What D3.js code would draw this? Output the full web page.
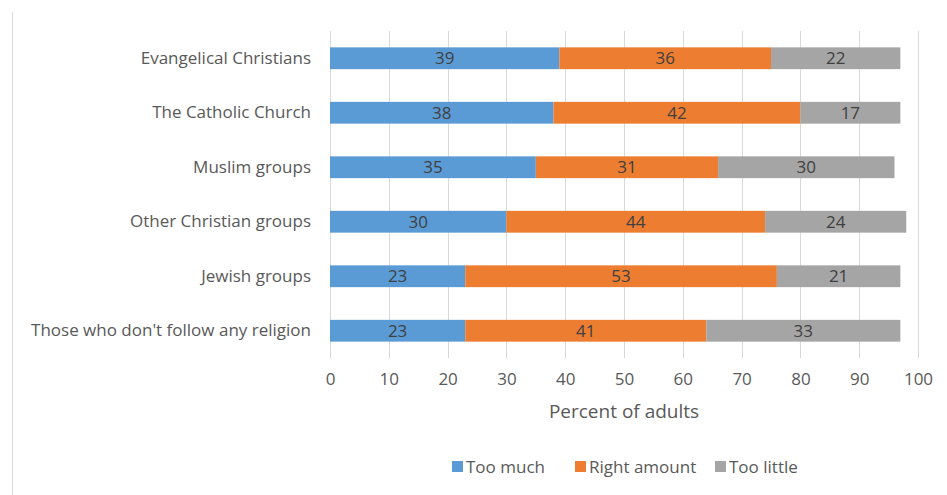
<!DOCTYPE html>
<html>
<head>
<meta charset="utf-8">
<script src="https://cdn.jsdelivr.net/npm/d3@7"></script>
<style>
  html, body { margin: 0; padding: 0; background: #fff; }
  svg { display: block; font-family: "Open Sans", "Noto Sans", sans-serif; }
</style>
</head>
<body>
<svg id="chart" width="947" height="495"></svg>
<script>
// Survey groups, top to bottom
const categories = [
  "Evangelical Christians",
  "The Catholic Church",
  "Muslim groups",
  "Other Christian groups",
  "Jewish groups",
  "Those who don't follow any religion"
];
const seriesNames = ["Too much", "Right amount", "Too little"];
const tooMuch     = [39, 38, 35, 30, 23, 23];
const rightAmount = [36, 42, 31, 44, 53, 41];
const tooLittle   = [22, 17, 30, 24, 21, 33];
const xTicks = [0, 10, 20, 30, 40, 50, 60, 70, 80, 90, 100];
const colors = ["#5B9BD5", "#ED7D31", "#A5A5A5"];

const rows = categories.map((c, i) => ({
  category: c,
  "Too much": tooMuch[i],
  "Right amount": rightAmount[i],
  "Too little": tooLittle[i]
}));

const svg = d3.select("#chart");
const margin = { left: 330, right: 29, top: 31, bottom: 137 };
const W = 947, H = 495;
const x = d3.scaleLinear().domain([0, 100]).range([margin.left, W - margin.right]);
const y = d3.scaleBand().domain(categories).range([margin.top, H - margin.bottom]).paddingInner(0.6).paddingOuter(0.3);

// Outer chart frame line on the left
svg.append("line")
  .attr("x1", 12.5).attr("x2", 12.5).attr("y1", 12).attr("y2", H)
  .attr("stroke", "#d9d9d9");

// Vertical gridlines
svg.append("g").selectAll("line").data(xTicks).join("line")
  .attr("x1", d => Math.round(x(d)) + 0.5).attr("x2", d => Math.round(x(d)) + 0.5)
  .attr("y1", margin.top).attr("y2", H - margin.bottom)
  .attr("stroke", "#d9d9d9").attr("stroke-width", 1);

// Stacked bars
const stack = d3.stack().keys(seriesNames)(rows);
const layers = svg.append("g").selectAll("g").data(stack).join("g")
  .attr("fill", (d, i) => colors[i]);
layers.selectAll("rect").data(d => d).join("rect")
  .attr("x", d => x(d[0]))
  .attr("y", d => y(d.data.category))
  .attr("width", d => x(d[1]) - x(d[0]))
  .attr("height", y.bandwidth());

// Value labels centred in each segment
layers.selectAll("text").data(d => d.map(s => ({ s, v: s[1] - s[0] }))).join("text")
  .attr("x", d => (x(d.s[0]) + x(d.s[1])) / 2)
  .attr("y", d => y(d.s.data.category) + y.bandwidth() / 2)
  .attr("dy", "0.36em")
  .attr("text-anchor", "middle")
  .attr("font-size", 17)
  .attr("fill", "#404040")
  .text(d => d.v);

// Category axis labels
const yAxis = d3.axisLeft(y).tickSize(0).tickPadding(19);
const gy = svg.append("g").attr("transform", `translate(${margin.left},0)`).call(yAxis);
gy.select(".domain").remove();
gy.selectAll("text").attr("font-size", 17).attr("fill", "#595959").attr("font-family", "Open Sans, sans-serif");

// Value axis labels
const xAxis = d3.axisBottom(x).tickValues(xTicks).tickSize(0).tickPadding(15);
const gx = svg.append("g").attr("transform", `translate(0,${H - margin.bottom})`).call(xAxis);
gx.select(".domain").remove();
gx.selectAll("text").attr("font-size", 17).attr("fill", "#595959").attr("font-family", "Open Sans, sans-serif");

// Axis title
svg.append("text")
  .attr("x", x(50)).attr("y", 418)
  .attr("text-anchor", "middle")
  .attr("font-size", 19).attr("fill", "#595959")
  .text("Percent of adults");

// Legend
const legendX = [452, 575, 715];
const legend = svg.append("g").selectAll("g").data(seriesNames).join("g")
  .attr("transform", (d, i) => `translate(${legendX[i]},467)`);
legend.append("rect").attr("x", 0).attr("y", -6).attr("width", 11).attr("height", 11)
  .attr("fill", (d, i) => colors[i]);
legend.append("text").attr("x", 14).attr("y", 0).attr("dy", "0.35em")
  .attr("font-size", 17).attr("fill", "#595959").text(d => d);
</script>
</body>
</html>
